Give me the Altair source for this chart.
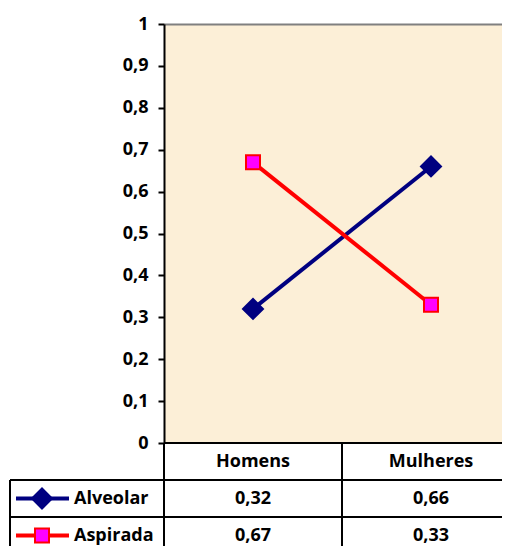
import altair as alt
import pandas as pd

# ---- data ----
categories = ["Homens", "Mulheres"]
series = ["Alveolar", "Aspirada"]
alveolar = [0.32, 0.66]
aspirada = [0.67, 0.33]
y_ticks = [0, 0.1, 0.2, 0.3, 0.4, 0.5, 0.6, 0.7, 0.8, 0.9, 1]

line_colors = ["#000080", "#FF0000"]
marker_fills = ["#000080", "#FF00FF"]
marker_shapes = ["diamond", "square"]

rows = []
for s, vals in zip(series, [alveolar, aspirada]):
    for c, v in zip(categories, vals):
        rows.append({"cat": c, "row": s, "value": v,
                     "label": f"{v:.2f}".replace(".", ",")})
df = pd.DataFrame(rows)
keys = pd.DataFrame({"row": series})
heads = pd.DataFrame({"cat": categories, "row": ["header"] * len(categories)})
head_row = pd.DataFrame({"row": ["header"]})

FONT = "Open Sans"
FS = 18
W_VIS = 338          # visible plot width (up to the window edge)
W_FULL = 356         # full plot width (right part lies past the window)
H = 419
TH = 111

color_scale = alt.Scale(domain=series, range=line_colors)
fill_scale = alt.Scale(domain=series, range=marker_fills)
shape_scale = alt.Scale(domain=series, range=marker_shapes)

# ---- main plot ----
x_main = alt.X("cat:N", sort=categories,
               scale=alt.Scale(type="point", domain=categories, padding=0.5,
                               range=[0, W_FULL]),
               axis=alt.Axis(title=None, labels=False, ticks=False, orient="top",
                             domainColor="#808080", domainWidth=2))
y_main = alt.Y("value:Q", scale=alt.Scale(domain=[0, 1], nice=False),
               axis=alt.Axis(title=None, values=y_ticks, grid=False,
                             labelExpr="replace(format(datum.value, '.1~f'), '.', ',')",
                             domainColor="black", domainWidth=2,
                             tickColor="black", tickSize=6, tickWidth=2,
                             labelFont=FONT, labelFontSize=FS, labelFontWeight="bold",
                             labelColor="black", labelPadding=10))

lines = alt.Chart(df).mark_line(strokeWidth=4).encode(
    x=x_main, y=y_main,
    color=alt.Color("row:N", scale=color_scale, legend=None),
)
points = alt.Chart(df).mark_point(opacity=1, fillOpacity=1, strokeWidth=2).encode(
    x=x_main, y=y_main,
    shape=alt.Shape("row:N", scale=shape_scale, legend=None),
    fill=alt.Fill("row:N", scale=fill_scale, legend=None),
    stroke=alt.Stroke("row:N", scale=color_scale, legend=None),
    size=alt.Size("row:O", scale=alt.Scale(domain=series, range=[400, 196]), legend=None),
)
main = alt.layer(lines, points)

# ---- data table (placed below the plot area) ----
tbl_rows = ["header"] + series
t_yscale = alt.Scale(domain=tbl_rows, paddingInner=0, paddingOuter=0, range=[H, H + TH])
t_xscale = alt.Scale(domain=categories, paddingInner=0, paddingOuter=0, range=[0, W_FULL])
y_t = alt.Y("row:N", sort=tbl_rows, scale=t_yscale, axis=None)
y_t0 = alt.Y("row:N", sort=tbl_rows, bandPosition=0, scale=t_yscale, axis=None)
x_t = alt.X("cat:N", sort=categories, scale=t_xscale, axis=None)
x_t0 = alt.X("cat:N", sort=categories, bandPosition=0, scale=t_xscale, axis=None)

txt = dict(font=FONT, fontSize=FS, fontWeight="bold", color="black", baseline="middle")

head_text = alt.Chart(heads).mark_text(**txt).encode(x=x_t, y=y_t, text="cat:N")
val_text = alt.Chart(df).mark_text(**txt).encode(x=x_t, y=y_t, text="label:N")
top_rule = alt.Chart(head_row).mark_rule(color="black", strokeWidth=2).encode(
    y=y_t0, x=alt.value(0), x2=alt.value(W_FULL))
h_rules = alt.Chart(keys).mark_rule(color="black", strokeWidth=2).encode(
    y=y_t0, x=alt.value(-154), x2=alt.value(W_FULL))
v_rules = alt.Chart(heads).mark_rule(color="black", strokeWidth=2).encode(
    x=x_t0, y=alt.value(H), y2=alt.value(H + TH))
left_rule = alt.Chart(keys.head(1)).mark_rule(color="black", strokeWidth=2).encode(
    x=alt.value(-154), y=y_t0, y2=alt.value(H + TH))
key_lines = alt.Chart(keys).mark_rule(strokeWidth=4).encode(
    y=y_t, x=alt.value(-148), x2=alt.value(-95),
    color=alt.Color("row:N", scale=color_scale, legend=None))
key_points = alt.Chart(keys).mark_point(opacity=1, fillOpacity=1, strokeWidth=2).encode(
    y=y_t, x=alt.value(-122),
    shape=alt.Shape("row:N", scale=shape_scale, legend=None),
    fill=alt.Fill("row:N", scale=fill_scale, legend=None),
    stroke=alt.Stroke("row:N", scale=color_scale, legend=None),
    size=alt.Size("row:O", scale=alt.Scale(domain=series, range=[196, 121]), legend=None),
)
key_text = alt.Chart(keys).mark_text(align="left", **txt).encode(
    y=y_t, x=alt.value(-90), text="row:N")

table = alt.layer(v_rules, left_rule, top_rule, h_rules, key_lines, key_points,
                  key_text, head_text, val_text)

chart = alt.layer(main, table).resolve_scale(
    x="independent", y="independent"
).properties(
    width=W_VIS, height=H,
    autosize=alt.AutoSizeParams(type="none"),
    padding={"left": 156, "top": 16, "right": 0, "bottom": 103},
    background="white",
    view=alt.ViewBackground(fill="#FCEFD7", stroke=None),
)

chart.save("out.html", embed_options={"renderer": "svg", "actions": False})
